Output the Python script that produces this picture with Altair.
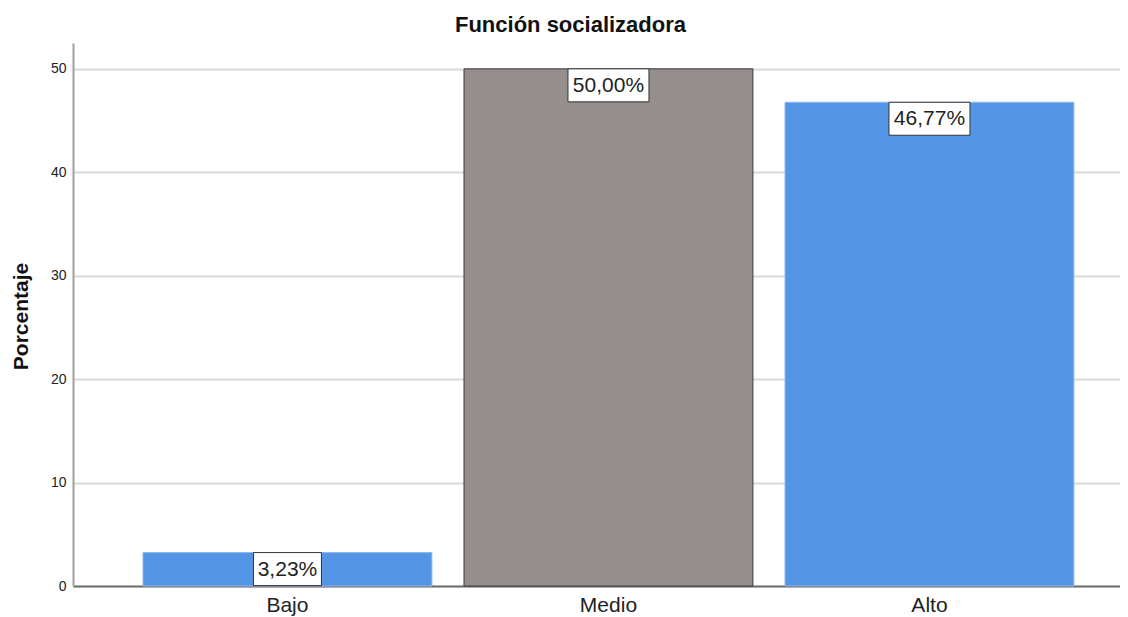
import altair as alt
import pandas as pd

categories = ["Bajo", "Medio", "Alto"]
values = [3.23, 50.00, 46.77]
labels = ["3,23%", "50,00%", "46,77%"]
colors = ["#5595E5", "#948F8D", "#5595E5"]
y_ticks = [0, 10, 20, 30, 40, 50]

df = pd.DataFrame({"cat": categories, "val": values, "lab": labels, "col": colors})

FONT = "Liberation Sans"

x = alt.X("cat:N", sort=categories, title=None,
          scale=alt.Scale(paddingInner=0.1, paddingOuter=0.1808, align=0.603),
          axis=alt.Axis(labelAngle=0, labelFontSize=21, labelColor="#222222",
                        labelFont=FONT, labelPadding=8, ticks=False,
                        domainColor="#6E6E6E", domainWidth=2))
y = alt.Y("val:Q", title="Porcentaje",
          scale=alt.Scale(domain=[0, 52.5], nice=False),
          axis=alt.Axis(values=y_ticks, labelFontSize=14, labelColor="#222222",
                        labelFont=FONT, labelPadding=7, ticks=False,
                        domainColor="#A0A0A0", domainWidth=2,
                        gridColor="#D9D9D9", gridWidth=2,
                        titleFont=FONT, titleFontSize=21, titleFontWeight="bold",
                        titleColor="#111111", titleX=-52, titleY=273,
                        titleBaseline="middle", titleAlign="center"))

bars = alt.Chart(df).mark_bar(strokeWidth=1).encode(
    x=x, y=y,
    color=alt.Color("col:N", scale=None),
    stroke=alt.condition(alt.datum.cat == "Medio", alt.value("#3A3A3A"), alt.value("#8DB8EE")),
)

boxes = alt.Chart(df).transform_calculate(
    w="(length(datum.lab) * 13 + 3) / 2",
).transform_calculate(
    path="'M' + (-datum.w) + ',-16.5H' + datum.w + 'V16.5H' + (-datum.w) + 'Z'"
).mark_point(filled=True, fill="white", stroke="#333333", strokeWidth=1,
             opacity=1, yOffset=16.5).encode(
    x=alt.X("cat:N", sort=categories),
    y="val:Q",
    shape=alt.Shape("path:N", scale=None),
    size=alt.value(4),
)

texts = alt.Chart(df).mark_text(font=FONT, fontSize=21, color="#222222",
                                baseline="middle", dy=17).encode(
    x=alt.X("cat:N", sort=categories),
    y="val:Q",
    text="lab:N",
)

chart = alt.layer(bars, boxes, texts).properties(
    width=1047, height=543,
    title=alt.TitleParams("Función socializadora", font=FONT, fontSize=22,
                          fontWeight="bold", color="#111111", anchor="middle",
                          dx=-26, offset=6),
    autosize=alt.AutoSizeParams(type="none"),
    padding={"left": 65, "top": 35, "right": 0, "bottom": 32},
).configure_view(stroke=None).configure_axis(grid=True).configure_axisX(grid=False)

chart.save("out.html", embed_options={"renderer": "svg", "actions": False})
